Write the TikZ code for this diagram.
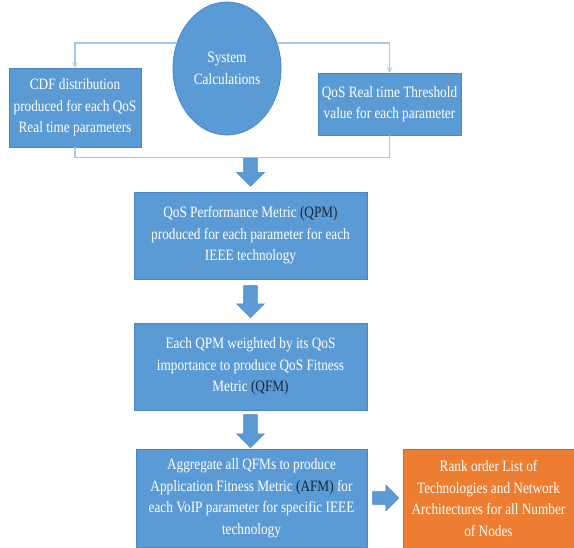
\documentclass[tikz,border=0pt]{standalone}
\usepackage{fontspec}
\setmainfont[FakeStretch=0.84]{Liberation Serif}
\usetikzlibrary{shapes.geometric,shapes.arrows,positioning}
\definecolor{boxblue}{HTML}{5B9BD5}
\definecolor{boxedge}{HTML}{4A86BF}
\definecolor{boxorange}{HTML}{ED7D31}
\definecolor{orangeedge}{HTML}{C9692A}
\definecolor{linkblue}{HTML}{A7C9E8}
\definecolor{acrcol}{HTML}{1B2638}
\newcommand{\acr}[1]{{\color{acrcol}#1}}
\tikzset{
  stepbox/.style={rectangle,draw=boxedge,fill=boxblue,line width=0.8pt,text=white,align=center,
    font=\fontsize{15.8}{21.5}\selectfont,inner sep=0pt},
  rankbox/.style={stepbox,draw=orangeedge,fill=boxorange},
  link/.style={draw=linkblue,line width=1.4pt},
  blk/.style={single arrow,draw=boxedge,fill=boxblue,line width=0.6pt,inner sep=6.5pt,
    single arrow head extend=7pt,minimum height=28pt}
}
\begin{document}
\begin{tikzpicture}[>=stealth,x=1pt,y=-1pt]
	\useasboundingbox (0,0) rectangle (574,548);
	\node[stepbox,ellipse,minimum width=108pt,minimum height=133pt] (sys) at (227,68.5) {System\\Calculations};
	\node[stepbox,minimum width=132pt,minimum height=79pt] (cdf) at (75,107.5) {CDF distribution\\produced for each QoS\\Real time parameters};
	\node[stepbox,minimum width=143pt,minimum height=62pt] (thr) at (389.5,104) {QoS Real time Threshold\\value for each parameter};
	\draw[link,->] (sys.153) -| (cdf.north);
	\draw[link,->] (sys.27) -| (thr.north);
	\draw[link] (cdf.south) -- ++(0,10) -| (thr.south);
	% main chain
	\node[stepbox,minimum width=233pt,minimum height=87pt] (qpm) at (250.5,235.5) {QoS Performance Metric \acr{(QPM)}\\produced for each parameter for each\\IEEE technology};
	\node[stepbox,minimum width=233pt,minimum height=87pt] (qfm) at (250.5,366.5) {Each QPM weighted by its QoS\\importance to produce QoS Fitness\\Metric \acr{(QFM)}};
	\node[stepbox,minimum width=231pt,minimum height=98pt] (afm) at (251.5,498) {Aggregate all QFMs to produce\\Application Fitness Metric \acr{(AFM)} for\\each VoIP parameter for specific IEEE\\technology};
	\node[rankbox,minimum width=171pt,minimum height=99pt] (rank) at (488.5,498.5) {Rank order List of\\Technologies and Network\\Architectures for all Number\\of Nodes};
	\node[blk,shape border rotate=270,above=5pt of qpm] (arr1) {};
	\node[blk,shape border rotate=270,minimum height=32pt,below=6pt of qpm] (arr2) {};
	\node[blk,shape border rotate=270,minimum height=33pt,below=4pt of qfm] (arr3) {};
	\node[blk,inner sep=6pt,single arrow head extend=6.5pt,minimum height=26pt,right=5pt of afm] (arr4) {};
\end{tikzpicture}
\end{document}
